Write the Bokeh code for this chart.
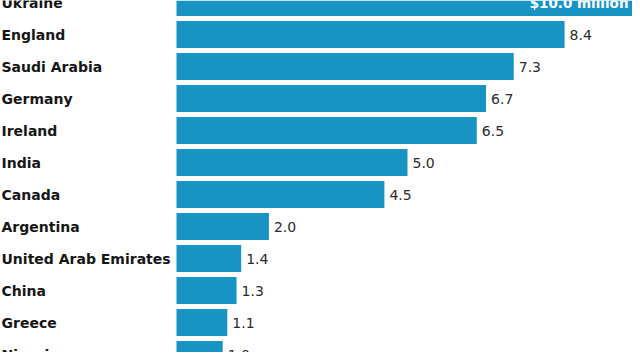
from bokeh.plotting import figure
from bokeh.models import Range1d, ColumnDataSource
from bokeh.core.properties import value
from bokeh.embed import file_html
from bokeh.resources import INLINE

countries = ["Ukraine", "England", "Saudi Arabia", "Germany", "Ireland", "India",
             "Canada", "Argentina", "United Arab Emirates", "China", "Greece", "Nigeria"]
amounts = [10.0, 8.4, 7.3, 6.7, 6.5, 5.0, 4.5, 2.0, 1.4, 1.3, 1.1, 1.0]
amount_labels = ["$10.0 million", "8.4", "7.3", "6.7", "6.5", "5.0", "4.5", "2.0",
                 "1.4", "1.3", "1.1", "1.0"]

W, H = 632, 352
PX_PER_UNIT = 46.2
BAR_X0 = 176.0
ROW = 32.0
TOP_OFFSET = -2.0

x_start = -BAR_X0 / PX_PER_UNIT
x_end = (W - BAR_X0) / PX_PER_UNIT
y_top = TOP_OFFSET / ROW
y_bottom = (H + TOP_OFFSET) / ROW

rows = list(range(len(countries)))

p = figure(width=W, height=H, output_backend="svg", toolbar_location=None,
           x_range=Range1d(x_start, x_end), y_range=Range1d(y_bottom, y_top),
           min_border=0, min_border_left=0, min_border_right=0,
           min_border_top=0, min_border_bottom=0)
p.axis.visible = False
p.grid.visible = False
p.outline_line_color = None
p.background_fill_color = "white"
p.border_fill_color = "white"

src = ColumnDataSource(dict(y=rows, v=amounts, c=countries))
p.hbar(y="y", left=0, right="v", height=27 / ROW, source=src,
       fill_color="#1894c4", line_color=None)

p.text(x=[x_start + 1 / PX_PER_UNIT] * len(rows), y=rows, text=countries,
       text_font=value("DejaVu Sans"), text_font_style="bold",
       text_font_size="14px", text_color="#161616",
       text_align="left", text_baseline="middle")

p.text(x=[v + 5 / PX_PER_UNIT for v in amounts[1:]], y=rows[1:], text=amount_labels[1:],
       text_font=value("DejaVu Sans"), text_font_size="14px", text_color="#2a2a2a",
       text_align="left", text_baseline="middle")

p.text(x=[amounts[0] - 10 / PX_PER_UNIT], y=[rows[0]], text=[amount_labels[0]],
       text_font=value("DejaVu Sans"), text_font_style="bold", text_font_size="13.5px",
       text_color="white", text_align="right", text_baseline="middle")

open("out.html", "w").write(file_html(p, INLINE))
